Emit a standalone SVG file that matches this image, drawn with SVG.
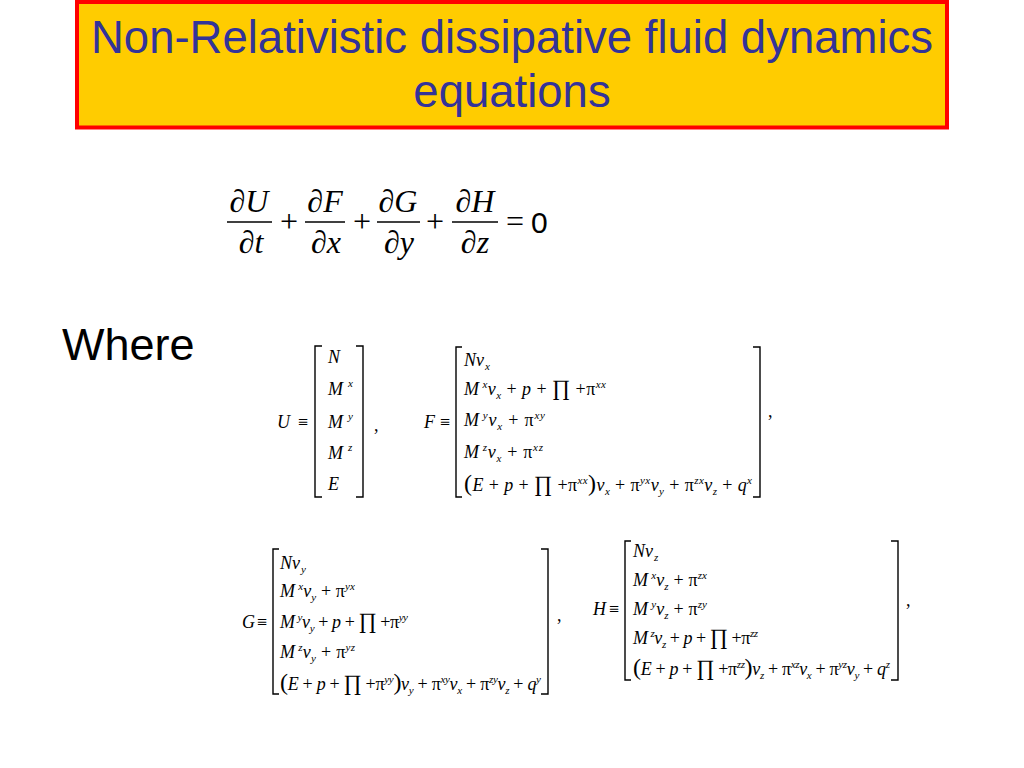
<svg xmlns="http://www.w3.org/2000/svg" width="1024" height="768" viewBox="0 0 1024 768">
<style>
.title{font-family:"Liberation Sans",Arial,sans-serif;font-size:45.5px;fill:#333399;text-anchor:middle}
.big{font-family:"Liberation Serif","Times New Roman",serif;font-size:32px;font-style:italic;fill:#000;text-anchor:middle}
.bigr{font-family:"Liberation Serif","Times New Roman",serif;font-size:32px;fill:#000;text-anchor:middle}
.t{font-family:"Liberation Serif","Times New Roman",serif;font-size:18px;font-style:italic;fill:#000}
.r{font-style:normal}
.s{font-size:11px}
.p{font-style:normal;font-size:24px}
.P{font-style:normal;font-size:22px}
.br{fill:none;stroke:#000;stroke-width:1.4}
.fl{stroke:#000;stroke-width:1.5}
</style>
<rect width="1024" height="768" fill="#fff"/>
<g id="title">
<rect x="77" y="2" width="870" height="125.5" fill="#FFCC00" stroke="#FF0000" stroke-width="4"/>
<text class="title" x="512" y="53">Non-Relativistic dissipative fluid dynamics</text>
<text class="title" x="512" y="107">equations</text>
</g>
<g id="main-equation">
<text class="big" x="249" y="212">∂U</text>
<text class="big" x="325" y="212">∂F</text>
<text class="big" x="398" y="212">∂G</text>
<text class="big" x="475" y="212">∂H</text>
<text class="big" x="251" y="253">∂t</text>
<text class="big" x="326" y="253">∂x</text>
<text class="big" x="399" y="253">∂y</text>
<text class="big" x="475" y="253">∂z</text>
<line class="fl" x1="227" y1="222" x2="272" y2="222"/>
<line class="fl" x1="305" y1="222" x2="345" y2="222"/>
<line class="fl" x1="377" y1="222" x2="420" y2="222"/>
<line class="fl" x1="452" y1="222" x2="498" y2="222"/>
<text class="bigr" x="289" y="232">+</text>
<text class="bigr" x="362" y="232">+</text>
<text class="bigr" x="435" y="232">+</text>
<text class="bigr" x="515" y="232">=</text>
<text x="531" y="233" font-family="Liberation Sans,Arial,sans-serif" font-size="30" fill="#000">0</text>
</g>
<text x="62" y="360" font-family="Liberation Sans,Arial,sans-serif" font-size="45" fill="#000">Where</text>
<g id="matrix-U">
<text class="t" x="277" y="428">U<tspan class="r" dx="8">≡</tspan></text>
<path class="br" d="M322,346 H315 V497 H322 M356,346 H363 V497 H356"/>
<text class="t" x="328" y="363">N</text>
<text class="t" x="328" y="395">M<tspan class="s" dx="5" dy="-8">x</tspan></text>
<text class="t" x="328" y="428">M<tspan class="s" dx="5" dy="-8">y</tspan></text>
<text class="t" x="328" y="459">M<tspan class="s" dx="5" dy="-8">z</tspan></text>
<text class="t" x="328" y="490">E</text>
<text class="t r" x="374" y="431">,</text>
</g>
<g id="matrix-F">
<text class="t" x="424" y="428">F<tspan class="r" dx="5">≡</tspan></text>
<path class="br" d="M462,347 H456 V497 H462 M753,347 H760 V497 H753"/>
<text class="t" x="464" y="366">Nv<tspan class="s" dx="1" dy="4">x</tspan></text>
<text class="t" x="464" y="395" textLength="142">M<tspan class="s" dx="3" dy="-7">x</tspan><tspan dy="7">v</tspan><tspan class="s" dy="4">x</tspan><tspan class="r" dy="-4"> + </tspan>p<tspan class="r"> + </tspan><tspan class="P">∏</tspan><tspan class="r"> +π</tspan><tspan class="s" dy="-7">xx</tspan></text>
<text class="t" x="464" y="426" textLength="81">M<tspan class="s" dx="3" dy="-7">y</tspan><tspan dy="7">v</tspan><tspan class="s" dy="4">x</tspan><tspan class="r" dy="-4"> + π</tspan><tspan class="s" dy="-7">xy</tspan></text>
<text class="t" x="464" y="458" textLength="79">M<tspan class="s" dx="3" dy="-7">z</tspan><tspan dy="7">v</tspan><tspan class="s" dy="4">x</tspan><tspan class="r" dy="-4"> + π</tspan><tspan class="s" dy="-7">xz</tspan></text>
<text class="t" x="464" y="491" textLength="288"><tspan class="p">(</tspan>E<tspan class="r"> + </tspan>p<tspan class="r"> + </tspan><tspan class="P">∏</tspan><tspan class="r"> +π</tspan><tspan class="s" dy="-7">xx</tspan><tspan class="p" dy="7">)</tspan>v<tspan class="s" dy="4">x</tspan><tspan class="r" dy="-4"> + π</tspan><tspan class="s" dy="-7">yx</tspan><tspan dy="7">v</tspan><tspan class="s" dy="4">y</tspan><tspan class="r" dy="-4"> + π</tspan><tspan class="s" dy="-7">zx</tspan><tspan dy="7">v</tspan><tspan class="s" dy="4">z</tspan><tspan class="r" dy="-4"> + </tspan>q<tspan class="s" dy="-7">x</tspan></text>
<text class="t r" x="768" y="417" font-size="20">,</text>
</g>
<g id="matrix-G">
<text class="t" x="242" y="628">G<tspan class="r" dx="2">≡</tspan></text>
<path class="br" d="M279,549 H273 V694 H279 M541,549 H548 V694 H541"/>
<text class="t" x="280" y="569">Nv<tspan class="s" dx="1" dy="4">y</tspan></text>
<text class="t" x="280" y="597" textLength="75">M<tspan class="s" dx="3" dy="-7">x</tspan><tspan dy="7">v</tspan><tspan class="s" dy="4">y</tspan><tspan class="r" dy="-4"> + π</tspan><tspan class="s" dy="-7">yx</tspan></text>
<text class="t" x="280" y="628" textLength="128">M<tspan class="s" dx="3" dy="-7">y</tspan><tspan dy="7">v</tspan><tspan class="s" dy="4">y</tspan><tspan class="r" dy="-4"> + </tspan>p<tspan class="r"> + </tspan><tspan class="P">∏</tspan><tspan class="r"> +π</tspan><tspan class="s" dy="-7">yy</tspan></text>
<text class="t" x="280" y="658" textLength="75">M<tspan class="s" dx="3" dy="-7">z</tspan><tspan dy="7">v</tspan><tspan class="s" dy="4">y</tspan><tspan class="r" dy="-4"> + π</tspan><tspan class="s" dy="-7">yz</tspan></text>
<text class="t" x="280" y="690" textLength="261"><tspan class="p">(</tspan>E<tspan class="r"> + </tspan>p<tspan class="r"> + </tspan><tspan class="P">∏</tspan><tspan class="r"> +π</tspan><tspan class="s" dy="-7">yy</tspan><tspan class="p" dy="7">)</tspan>v<tspan class="s" dy="4">y</tspan><tspan class="r" dy="-4"> + π</tspan><tspan class="s" dy="-7">xy</tspan><tspan dy="7">v</tspan><tspan class="s" dy="4">x</tspan><tspan class="r" dy="-4"> + π</tspan><tspan class="s" dy="-7">zy</tspan><tspan dy="7">v</tspan><tspan class="s" dy="4">z</tspan><tspan class="r" dy="-4"> + </tspan>q<tspan class="s" dy="-7">y</tspan></text>
<text class="t r" x="557" y="621" font-size="20">,</text>
</g>
<g id="matrix-H">
<text class="t" x="593" y="615">H<tspan class="r" dx="3">≡</tspan></text>
<path class="br" d="M631,541 H625 V680 H631 M891,541 H898 V680 H891"/>
<text class="t" x="633" y="557">Nv<tspan class="s" dx="1" dy="4">z</tspan></text>
<text class="t" x="633" y="586" textLength="74">M<tspan class="s" dx="3" dy="-7">x</tspan><tspan dy="7">v</tspan><tspan class="s" dy="4">z</tspan><tspan class="r" dy="-4"> + π</tspan><tspan class="s" dy="-7">zx</tspan></text>
<text class="t" x="633" y="615" textLength="74">M<tspan class="s" dx="3" dy="-7">y</tspan><tspan dy="7">v</tspan><tspan class="s" dy="4">z</tspan><tspan class="r" dy="-4"> + π</tspan><tspan class="s" dy="-7">zy</tspan></text>
<text class="t" x="633" y="644" textLength="125">M<tspan class="s" dx="3" dy="-7">z</tspan><tspan dy="7">v</tspan><tspan class="s" dy="4">z</tspan><tspan class="r" dy="-4"> + </tspan>p<tspan class="r"> + </tspan><tspan class="P">∏</tspan><tspan class="r"> +π</tspan><tspan class="s" dy="-7">zz</tspan></text>
<text class="t" x="633" y="675" textLength="257"><tspan class="p">(</tspan>E<tspan class="r"> + </tspan>p<tspan class="r"> + </tspan><tspan class="P">∏</tspan><tspan class="r"> +π</tspan><tspan class="s" dy="-7">zz</tspan><tspan class="p" dy="7">)</tspan>v<tspan class="s" dy="4">z</tspan><tspan class="r" dy="-4"> + π</tspan><tspan class="s" dy="-7">xz</tspan><tspan dy="7">v</tspan><tspan class="s" dy="4">x</tspan><tspan class="r" dy="-4"> + π</tspan><tspan class="s" dy="-7">yz</tspan><tspan dy="7">v</tspan><tspan class="s" dy="4">y</tspan><tspan class="r" dy="-4"> + </tspan>q<tspan class="s" dy="-7">z</tspan></text>
<text class="t r" x="906" y="606" font-size="20">,</text>
</g>
</svg>
